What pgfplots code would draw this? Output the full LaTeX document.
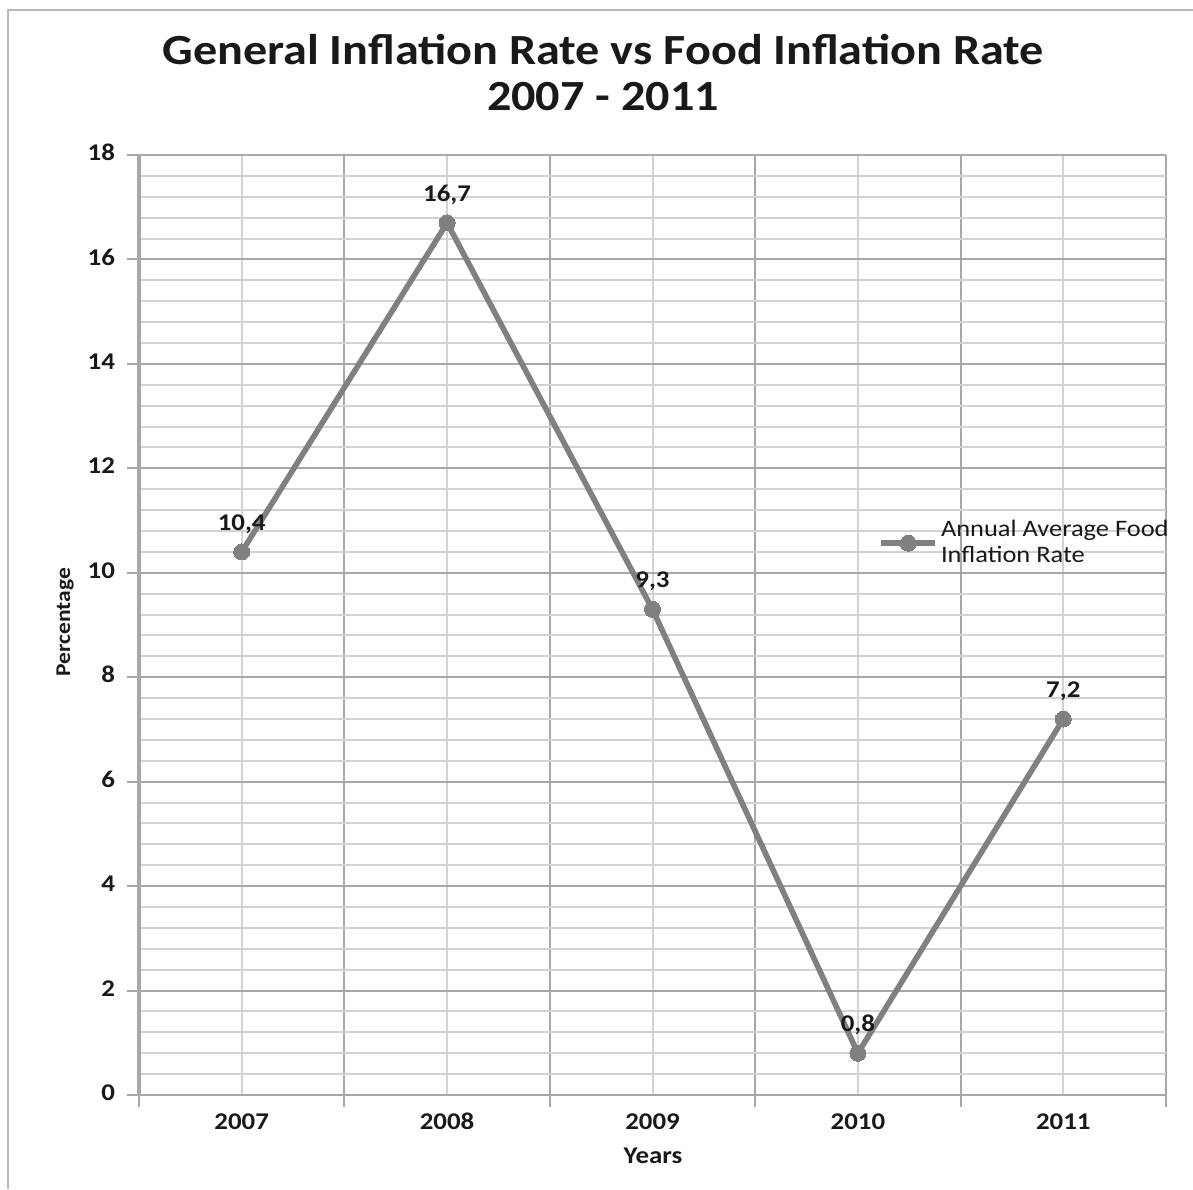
\documentclass[border=0pt]{standalone}
\usepackage{fontspec}
\setmainfont{Carlito}[FakeStretch=1.12]
\usepackage{pgfplots}
\pgfplotsset{compat=1.18}

\definecolor{seriesgray}{RGB}{128,128,128}
\definecolor{gridmajor}{RGB}{168,168,168}
\definecolor{gridminor}{RGB}{210,210,210}
\definecolor{framegray}{RGB}{185,185,185}
\definecolor{labelblack}{RGB}{25,25,25}

\begin{document}
\begin{tikzpicture}
% page frame, titles and axis titles (1 unit = 0.5pt, y running downwards)
\begin{scope}[x=0.5pt,y=-0.5pt]
  \path[use as bounding box] (0,0) rectangle (1193,1189);
  \draw[framegray,line width=1pt] (8,1189) -- (8,10) -- (1193,10);
  \node[font=\fontsize{21.5}{24}\selectfont\bfseries,text=labelblack] at (603,50)
    {General Inflation Rate vs Food Inflation Rate};
  \node[font=\fontsize{21.5}{24}\selectfont\bfseries,text=labelblack] at (603,97)
    {2007 - 2011};
  \node[rotate=90,font=\fontsize{10.5}{13}\selectfont\bfseries,text=labelblack] at (65,622)
    {Percentage};
  \node[font=\fontsize{12}{15}\selectfont\bfseries,text=labelblack] at (653,1156)
    {Years};
\end{scope}

\begin{axis}[
  at={(69.5pt,-547.5pt)}, anchor=south west,
  scale only axis, width=513.5pt, height=470pt,
  xmin=-0.5, xmax=4.5, ymin=0, ymax=18,
  clip=false,
  axis lines=left,
  x axis line style={-, draw=gridmajor, line width=1pt},
  y axis line style={-, draw=gridmajor, line width=1.6pt},
  /pgf/number format/assume math mode=true,
  typeset ticklabels with strut,
  tick align=outside,
  major tick length=6pt,
  minor tick length=0pt,
  tick style={draw=gridmajor, line width=1pt},
  ticklabel style={font=\fontsize{12}{14}\selectfont\bfseries, text=labelblack},
  yticklabel style={xshift=-2.5pt},
  % category boundaries: ticks and darker grid lines
  xtick={-0.5,0.5,1.5,2.5,3.5,4.5},
  xticklabels={},
  minor xtick={0,1,2,3,4},
  % category names at the centres
  extra x ticks={0,1,2,3,4},
  extra x tick labels={2007,2008,2009,2010,2011},
  extra x tick style={xmajorgrids=false, major tick length=0pt,
    xticklabel style={yshift=-4pt}},
  ytick={0,2,...,18},
  minor y tick num=4,
  grid=both,
  major grid style={draw=gridmajor, line width=1pt},
  minor grid style={draw=gridminor, line width=1pt},
  legend style={at={(0.7196,0.587)}, anchor=west, draw=none, fill=none,
    inner sep=0pt,
    font=\fontsize{11.8}{13}\selectfont, text=labelblack,
    cells={anchor=west, align=left},
    nodes={inner sep=1.5pt}},
  legend image code/.code={%
    \draw[mark repeat=2,mark phase=2,#1]
      plot coordinates {(0pt,0pt) (13.5pt,0pt) (27pt,0pt)};},
]
\addplot[color=seriesgray, line width=2.8pt,
  mark=*, mark size=4pt,
  mark options={fill=seriesgray, draw=seriesgray, line width=0pt},
  nodes near coords,
  every node near coord/.append style={
    font=\fontsize{12}{14}\selectfont\bfseries, text=labelblack,
    anchor=center, yshift=14pt,
    /pgf/number format/.cd, use comma, fixed, precision=1, fixed zerofill}]
  coordinates {(0,10.4) (1,16.7) (2,9.3) (3,0.8) (4,7.2)};
\legend{Annual Average Food\\Inflation Rate}
\end{axis}
\end{tikzpicture}
\end{document}
